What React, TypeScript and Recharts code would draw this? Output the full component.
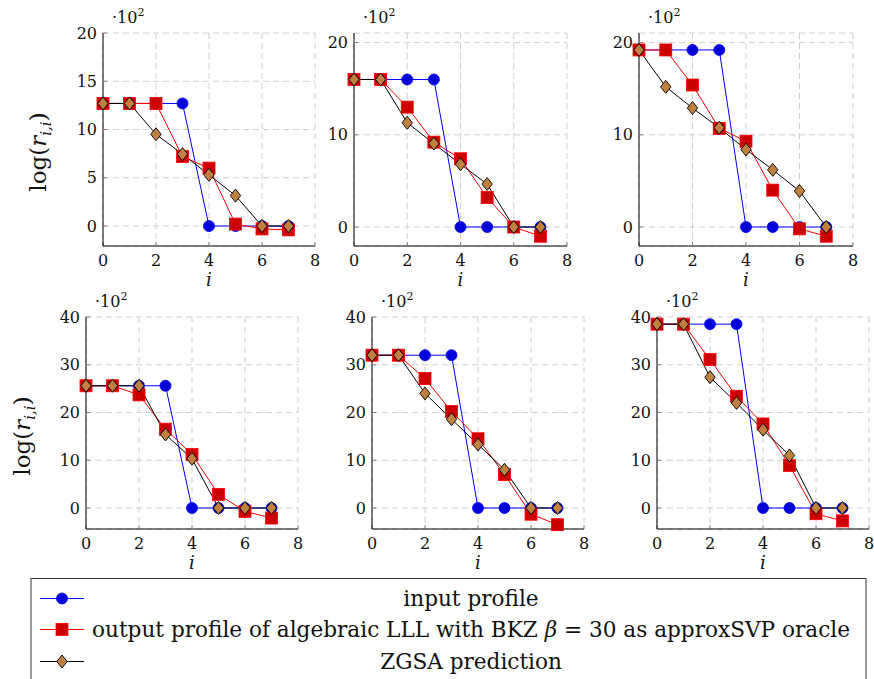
import { LineChart, Line, XAxis, YAxis, CartesianGrid } from "recharts";

// row index i and tick values
const steps = [0, 1, 2, 3, 4, 5, 6, 7];
const xTicks = [0, 2, 4, 6, 8];
const yTicksA = [0, 5, 10, 15, 20];
const yTicksB = [0, 10, 20];
const yTicksC = [0, 10, 20, 30, 40];

// log(r_ii) values in units of 10^2
const input1 = [12.7, 12.7, 12.7, 12.7, 0, 0, 0, 0];
const output1 = [12.7, 12.7, 12.7, 7.2, 6.0, 0.2, -0.3, -0.4];
const zgsa1 = [12.7, 12.7, 9.5, 7.45, 5.3, 3.15, 0, 0];

const input2 = [16, 16, 16, 16, 0, 0, 0, 0];
const output2 = [16, 16, 13.0, 9.2, 7.4, 3.2, 0, -1.0];
const zgsa2 = [16, 16, 11.3, 9.05, 6.8, 4.66, 0, 0];

const input3 = [19.2, 19.2, 19.2, 19.2, 0, 0, 0, 0];
const output3 = [19.2, 19.2, 15.4, 10.7, 9.3, 4.0, -0.2, -1.0];
const zgsa3 = [19.2, 15.2, 12.9, 10.76, 8.4, 6.2, 3.9, 0];

const input4 = [25.6, 25.6, 25.6, 25.6, 0, 0, 0, 0];
const output4 = [25.6, 25.6, 23.7, 16.5, 11.2, 2.85, -0.7, -2.1];
const zgsa4 = [25.6, 25.6, 25.6, 15.4, 10.3, 0, 0, 0];

const input5 = [32, 32, 32, 32, 0, 0, 0, 0];
const output5 = [32, 32, 27.1, 20.2, 14.5, 7.0, -1.3, -3.5];
const zgsa5 = [32, 32, 24.0, 18.6, 13.3, 8.0, 0, 0];

const input6 = [38.5, 38.5, 38.5, 38.5, 0, 0, 0, 0];
const output6 = [38.5, 38.5, 31.1, 23.4, 17.6, 8.9, -1.2, -2.7];
const zgsa6 = [38.5, 38.5, 27.4, 22.0, 16.4, 11.0, 0, 0];

const FONT = "DejaVu Serif";
const BLUE = "#0000ff";
const RED = "#ff0000";
const BROWN = "#bf8040";
const AX_W = 50;
const AX_H = 40;
const MT = 10;
const MR = 10;

function Circle({ cx, cy }: { cx: number; cy: number }) {
  return <circle cx={cx} cy={cy} r={5.5} fill="#0000d8" stroke={BLUE} strokeWidth={0.8} />;
}
function Square({ cx, cy }: { cx: number; cy: number }) {
  return <rect x={cx - 6} y={cy - 6} width={12} height={12} fill="#cc0000" stroke={RED} strokeWidth={0.8} />;
}
function Diamond({ cx, cy }: { cx: number; cy: number }) {
  return (
    <polygon
      points={`${cx},${cy - 6.5} ${cx + 5.2},${cy} ${cx},${cy + 6.5} ${cx - 5.2},${cy}`}
      fill={BROWN}
      stroke="#000"
      strokeWidth={0.9}
    />
  );
}

type PanelProps = {
  left: number;
  top: number;
  w: number;
  h: number;
  domain: [number, number];
  yTicks: number[];
  input: number[];
  output: number[];
  zgsa: number[];
};

function Panel({ left, top, w, h, domain, yTicks, input, output, zgsa }: PanelProps) {
  const rows = steps.map((s, k) => ({ i: s, input: input[k], output: output[k], zgsa: zgsa[k] }));
  const tickStyle = { fontFamily: FONT, fontSize: 16, fill: "#111" };
  return (
    <div style={{ position: "absolute", left: left - AX_W, top: top - MT }}>
      <LineChart
        width={AX_W + w + MR}
        height={MT + h + AX_H}
        data={rows}
        margin={{ top: MT, right: MR, bottom: 0, left: 0 }}
      >
        <CartesianGrid stroke="#d0d0d0" strokeDasharray="6 4" />
        <XAxis
          dataKey="i"
          type="number"
          domain={[0, 8]}
          ticks={xTicks}
          height={AX_H}
          tickSize={-4}
          tickMargin={13}
          tick={tickStyle}
          axisLine={{ stroke: "#000" }}
          tickLine={{ stroke: "#808080" }}
        />
        <XAxis
          xAxisId="top"
          orientation="top"
          type="number"
          domain={[0, 8]}
          ticks={xTicks}
          height={0}
          tickSize={-4}
          tick={false}
          axisLine={{ stroke: "#000" }}
          tickLine={{ stroke: "#808080" }}
        />
        <YAxis
          type="number"
          domain={domain}
          ticks={yTicks}
          width={AX_W}
          tickSize={-4}
          tickMargin={10}
          tick={tickStyle}
          axisLine={{ stroke: "#000" }}
          tickLine={{ stroke: "#808080" }}
        />
        <YAxis
          yAxisId="right"
          orientation="right"
          type="number"
          domain={domain}
          ticks={yTicks}
          width={0}
          tickSize={-4}
          tick={false}
          axisLine={{ stroke: "#000" }}
          tickLine={{ stroke: "#808080" }}
        />
        <Line
          dataKey="input"
          stroke={BLUE}
          strokeWidth={1}
          isAnimationActive={false}
          dot={(p: any) => <Circle key={`c${p.index}`} cx={p.cx} cy={p.cy} />}
        />
        <Line
          dataKey="output"
          stroke={RED}
          strokeWidth={1}
          isAnimationActive={false}
          dot={(p: any) => <Square key={`s${p.index}`} cx={p.cx} cy={p.cy} />}
        />
        <Line
          dataKey="zgsa"
          stroke="#000"
          strokeWidth={1}
          isAnimationActive={false}
          dot={(p: any) => <Diamond key={`d${p.index}`} cx={p.cx} cy={p.cy} />}
        />
      </LineChart>
    </div>
  );
}

const panels: PanelProps[] = [
  { left: 103, top: 33, w: 212, h: 213, domain: [-2.07, 20], yTicks: yTicksA, input: input1, output: output1, zgsa: zgsa1 },
  { left: 354, top: 33, w: 213, h: 213, domain: [-2.06, 21.04], yTicks: yTicksB, input: input2, output: output2, zgsa: zgsa2 },
  { left: 639, top: 33, w: 214, h: 213, domain: [-2.06, 21.04], yTicks: yTicksB, input: input3, output: output3, zgsa: zgsa3 },
  { left: 86, top: 317, w: 212, h: 212, domain: [-4.4, 40], yTicks: yTicksC, input: input4, output: output4, zgsa: zgsa4 },
  { left: 372, top: 317, w: 212, h: 212, domain: [-4.4, 40], yTicks: yTicksC, input: input5, output: output5, zgsa: zgsa5 },
  { left: 657, top: 317, w: 212, h: 212, domain: [-4.4, 40], yTicks: yTicksC, input: input6, output: output6, zgsa: zgsa6 },
];

function YLabel({ x, y }: { x: number; y: number }) {
  return (
    <text transform={`translate(${x},${y}) rotate(-90)`} textAnchor="middle" fontFamily={FONT} fontSize={23} fill="#111">
      log(<tspan fontStyle="italic">r</tspan>
      <tspan fontStyle="italic" fontSize={15} dy={5}>i,i</tspan>
      <tspan dy={-5}>)</tspan>
    </text>
  );
}

const legendRows = [
  { y: 598.5, color: BLUE, mark: Circle },
  { y: 629.5, color: RED, mark: Square },
  { y: 661.5, color: "#000", mark: Diamond },
];

export default function App() {
  return (
    <div style={{ position: "fixed", left: 0, top: 0, width: 874, height: 679, background: "#fff", overflow: "hidden" }}>
      {panels.map((p, k) => (
        <Panel key={k} {...p} />
      ))}
      <svg width={874} height={679} style={{ position: "absolute", left: 0, top: 0, pointerEvents: "none" }}>
        {panels.map((p, k) => (
          <g key={k} fontFamily={FONT} fill="#111">
            <text x={p.left + 9} y={p.top - 10} fontSize={16}>
              ·10<tspan fontSize={11} dy={-7}>2</tspan>
            </text>
            <text x={p.left + p.w / 2} y={p.top + p.h + 40} fontSize={18} fontStyle="italic" textAnchor="middle">
              i
            </text>
          </g>
        ))}
        <YLabel x={46} y={152} />
        <YLabel x={30} y={436} />
        <rect x={31} y={578.5} width={835} height={130} fill="#fff" stroke="#333" strokeWidth={1} />
        {legendRows.map((r, k) => {
          const Mark = r.mark;
          return (
            <g key={k}>
              <line x1={40} x2={84} y1={r.y} y2={r.y} stroke={r.color} strokeWidth={1} />
              <Mark cx={62} cy={r.y} />
            </g>
          );
        })}
        <g fontFamily={FONT} fontSize={21.6} fill="#111" textAnchor="middle">
          <text x={471} y={legendRows[0].y + 7}>input profile</text>
          <text x={471} y={legendRows[1].y + 7}>
            output profile of algebraic LLL with BKZ <tspan fontStyle="italic">β</tspan> = 30 as approxSVP oracle
          </text>
          <text x={471} y={legendRows[2].y + 7}>ZGSA prediction</text>
        </g>
      </svg>
    </div>
  );
}
